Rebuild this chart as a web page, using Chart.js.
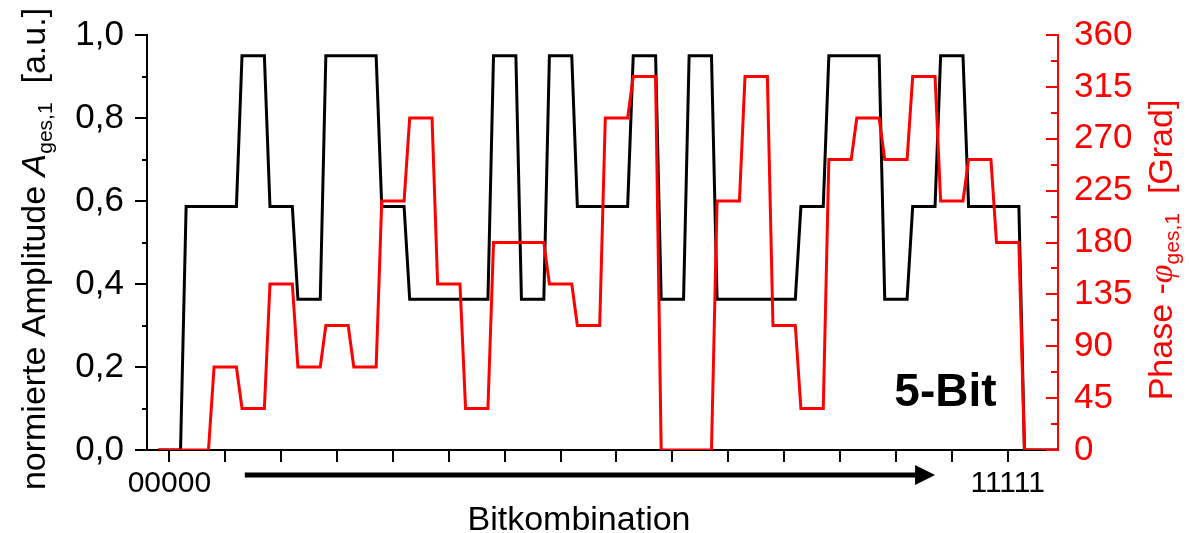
<!DOCTYPE html>
<html>
<head>
<meta charset="utf-8">
<script src="https://cdn.jsdelivr.net/npm/chart.js@4.4.1/dist/chart.umd.min.js"></script>
<style>
  html, body { margin: 0; padding: 0; background: #fff; }
</style>
</head>
<body>
<canvas id="chart" width="1189" height="533"></canvas>
<script>
// Bit combinations 00000 ... 11111 (index 0..31)
const amplitude = [0, 0.587, 0.587, 0.95, 0.587, 0.363, 0.95, 0.95, 0.587, 0.363, 0.363, 0.363, 0.95, 0.363, 0.95, 0.587,
                   0.587, 0.95, 0.363, 0.95, 0.363, 0.363, 0.363, 0.587, 0.95, 0.95, 0.363, 0.587, 0.95, 0.587, 0.587, 0];
const phase = [0, 0, 72, 36, 144, 72, 108, 72, 216, 288, 144, 36, 180, 180, 144, 108,
               288, 324, 0, 0, 216, 324, 108, 36, 252, 288, 252, 324, 216, 252, 180, 0];

const xTickPos = [0, 2, 4, 6, 8, 10, 12, 14, 16, 18, 20, 22, 24, 26, 28, 30];
const bitLabelPos = [0, 30];
const bitLabels = ['00000', '11111'];

const FONT = "'Liberation Sans', Arial, sans-serif";
const HALF = 0.4;          // half plateau width per combination
const X_MIN = -0.8, X_MAX = 31.8;

// each combination is a flat plateau, joined by straight ramps
function stepPoints(values) {
    const pts = [];
    values.forEach((v, i) => {
        pts.push({ x: i - HALF, y: v });
        pts.push({ x: i === values.length - 1 ? X_MAX : i + HALF, y: v });
    });
    return pts;
}

function drawRich(ctx, parts, size) {
    const sub = Math.round(size * 0.62);
    const fontOf = p => (p.italic ? 'italic ' : '') + (p.sub ? sub : size) + 'px ' + (p.serif ? "'Liberation Serif', serif" : FONT);
    let total = 0;
    parts.forEach(p => { ctx.font = fontOf(p); total += ctx.measureText(p.t).width; });
    let cx = -total / 2;
    parts.forEach(p => {
        ctx.font = fontOf(p);
        ctx.fillText(p.t, cx, p.sub ? size * 0.22 : 0);
        cx += ctx.measureText(p.t).width;
    });
}

const decor = {
    id: 'decor',
    afterDraw(chart) {
        const { ctx, chartArea: a, scales } = chart;
        const xs = scales.x, yA = scales.yA, yP = scales.yP;
        ctx.save();

        // minor ticks on the amplitude axis
        ctx.lineWidth = 2;
        ctx.strokeStyle = '#000';
        for (let v = 0.1; v < 1; v += 0.2) {
            const py = Math.round(yA.getPixelForValue(v));
            ctx.beginPath(); ctx.moveTo(a.left - 5, py); ctx.lineTo(a.left, py); ctx.stroke();
        }

        // phase axis ticks point inwards
        ctx.strokeStyle = '#ff0000';
        for (let v = 0; v <= 360; v += 22.5) {
            const py = Math.round(yP.getPixelForValue(v));
            const len = v % 45 === 0 ? 12 : 7;
            ctx.beginPath(); ctx.moveTo(a.right - len, py); ctx.lineTo(a.right, py); ctx.stroke();
        }

        // arrow under the axis
        const ay = a.bottom + 25;
        const x0 = xs.getPixelForValue(2.7), x1 = xs.getPixelForValue(27.4);
        ctx.fillStyle = '#000';
        ctx.fillRect(x0, ay - 2.5, x1 - 20 - x0, 5);
        ctx.beginPath();
        ctx.moveTo(x1, ay); ctx.lineTo(x1 - 20, ay - 10); ctx.lineTo(x1 - 20, ay + 10);
        ctx.closePath(); ctx.fill();

        // 5-Bit label
        ctx.font = 'bold 46px ' + FONT;
        ctx.textBaseline = 'alphabetic';
        ctx.textAlign = 'right';
        ctx.fillText('5-Bit', xs.getPixelForValue(29.6), yA.getPixelForValue(0.105));

        // x title sits a bit left of the axis centre
        ctx.font = '34px ' + FONT;
        ctx.textAlign = 'center';
        ctx.fillText('Bitkombination', 579, 530);

        // axis titles with italic symbol and subscript
        ctx.textAlign = 'left';
        ctx.save();
        ctx.translate(45, 249);
        ctx.rotate(-Math.PI / 2);
        ctx.fillStyle = '#000';
        drawRich(ctx, [{ t: 'normierte Amplitude ' }, { t: 'A', italic: true }, { t: 'ges,1', sub: true }, { t: '  [a.u.]' }], 34);
        ctx.restore();

        ctx.save();
        ctx.translate(1172, 250);
        ctx.rotate(-Math.PI / 2);
        ctx.fillStyle = '#ff0000';
        drawRich(ctx, [{ t: 'Phase -' }, { t: 'φ', italic: true, serif: true }, { t: 'ges,1', sub: true }, { t: '  [Grad]' }], 34);
        ctx.restore();

        ctx.restore();
    }
};

new Chart(document.getElementById('chart'), {
    type: 'line',
    data: {
        datasets: [
            { label: 'Phase', data: stepPoints(phase), yAxisID: 'yP', borderColor: '#ff0000', borderWidth: 3, pointRadius: 0, tension: 0, order: 0 },
            { label: 'Amplitude', data: stepPoints(amplitude), yAxisID: 'yA', borderColor: '#000000', borderWidth: 3, pointRadius: 0, tension: 0, order: 1 }
        ]
    },
    options: {
        responsive: false,
        animation: false,
        layout: { padding: { top: 35, left: 0, right: 0, bottom: 0 } },
        plugins: { legend: { display: false }, tooltip: { enabled: false } },
        scales: {
            x: {
                type: 'linear', min: X_MIN, max: X_MAX,
                afterBuildTicks: s => { s.ticks = xTickPos.map(v => ({ value: v })); },
                afterFit: s => { s.height = 83; },
                ticks: {
                    autoSkip: false, maxRotation: 0, color: '#000', padding: 4,
                    font: { family: FONT, size: 30 },
                    callback: v => { const k = bitLabelPos.indexOf(v); return k >= 0 ? bitLabels[k] : ''; }
                },
                grid: { drawOnChartArea: false, tickLength: 12, color: '#000', lineWidth: 2 },
                border: { color: '#000', width: 2 }
            },
            yA: {
                position: 'left', min: 0, max: 1,
                afterFit: s => { s.width = 147; },
                ticks: { stepSize: 0.2, color: '#000', padding: 11, font: { family: FONT, size: 35 },
                         callback: v => v.toFixed(1).replace('.', ',') },
                grid: { drawOnChartArea: false, tickLength: 12, color: '#000', lineWidth: 2 },
                border: { color: '#000', width: 2 }
            },
            yP: {
                position: 'right', min: 0, max: 360,
                afterFit: s => { s.width = 131; },
                ticks: { stepSize: 45, color: '#ff0000', padding: 8, font: { family: FONT, size: 35 } },
                grid: { display: false },
                border: { color: '#ff0000', width: 2 }
            }
        }
    },
    plugins: [decor]
});
</script>
</body>
</html>
